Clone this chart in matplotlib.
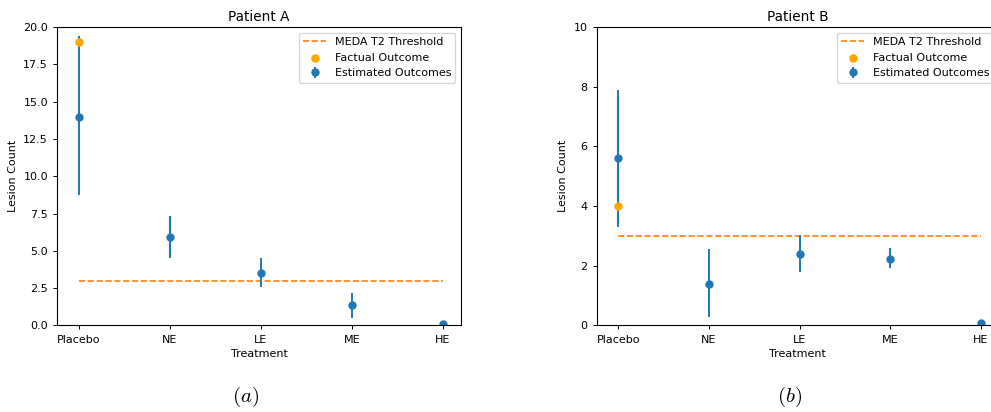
import numpy as np
import matplotlib.pyplot as plt

## DATA

treatments = ['Placebo', 'NE', 'LE', 'ME', 'HE']
threshold = 3

# Patient A
est_a = [14.0, 5.96, 3.51, 1.36, 0.07]
low_a = [8.76, 4.51, 2.58, 0.51, 0.0]
high_a = [19.42, 7.36, 4.51, 2.18, 0.1]
factual_a = 19.0

# Patient B
est_b = [5.6, 1.4, 2.4, 2.24, 0.09]
low_b = [3.31, 0.29, 1.8, 1.94, 0.05]
high_b = [7.89, 2.56, 3.03, 2.58, 0.12]
factual_b = 4.0

## PLOTTING

plt.rcParams['mathtext.fontset'] = 'cm'
fs = 8

fig = plt.figure(figsize=(9.91, 4.12), dpi=100)
ax_a = fig.add_axes([0.0575, 0.2100, 0.4077, 0.7245])
ax_b = fig.add_axes([0.6021, 0.2100, 0.4060, 0.7245])


def patient_plot(ax, est, low, high, factual, title, ymax, yticks):
    x = np.arange(len(treatments))
    est = np.array(est)
    yerr = [est - np.array(low), np.array(high) - est]
    thr, = ax.plot(x, [threshold] * len(x), '--', color='C1', lw=1.2,
                   label='MEDA T2 Threshold')
    fac = ax.scatter([0], [factual], color='orange', s=26, zorder=3,
                     label='Factual Outcome')
    eb = ax.errorbar(x, est, yerr=yerr, fmt='o', color='C0', ms=5,
                     elinewidth=1.4, label='Estimated Outcomes')
    ax.set_xticks(x)
    ax.set_xticklabels(treatments)
    ax.set_xlim(-0.24, 4.2)
    ax.set_ylim(0, ymax)
    ax.set_yticks(yticks)
    ax.tick_params(labelsize=fs, length=3, width=0.7)
    for s in ax.spines.values():
        s.set_linewidth(0.8)
    ax.set_xlabel('Treatment', fontsize=fs, labelpad=3)
    ax.set_ylabel('Lesion Count', fontsize=fs)
    ax.set_title(title, fontsize=9.8, pad=4)
    ax.legend([thr, fac, eb], ['MEDA T2 Threshold', 'Factual Outcome', 'Estimated Outcomes'],
              loc='upper right', fontsize=fs, handlelength=2.0)


patient_plot(ax_a, est_a, low_a, high_a, factual_a, 'Patient A', 20,
             np.arange(0, 20.1, 2.5))
ax_a.set_yticklabels(['%.1f' % v for v in np.arange(0, 20.1, 2.5)])
patient_plot(ax_b, est_b, low_b, high_b, factual_b, 'Patient B', 10,
             np.arange(0, 11, 2))

fig.text(246 / 991, 1 - 397 / 412, '$(a)$', fontsize=15, ha='center', va='center')
fig.text(790 / 991, 1 - 397 / 412, '$(b)$', fontsize=15, ha='center', va='center')

plt.savefig('out.png', dpi=100)
